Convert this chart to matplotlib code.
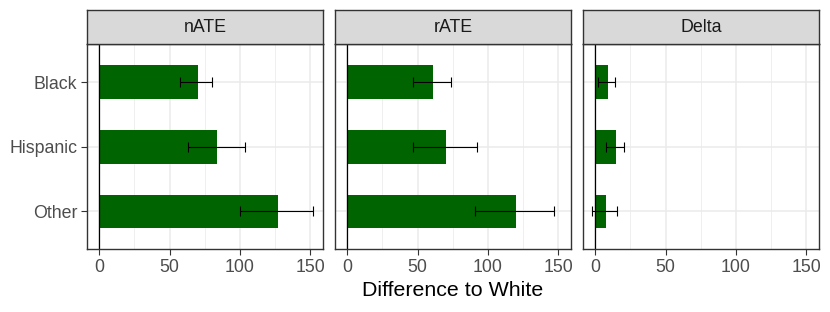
import numpy as np
import matplotlib.pyplot as plt

plt.rcParams['font.family'] = ['Liberation Sans', 'DejaVu Sans']

groups = ["Black", "Hispanic", "Other"]
panels = ["nATE", "rATE", "Delta"]
# bar value, lower and upper error bound for each panel
est = {"nATE": [70, 84, 127], "rATE": [61, 70, 120], "Delta": [9, 14.5, 7.8]}
lo = {"nATE": [57.5, 63, 100.3], "rATE": [47, 47, 91], "Delta": [2.1, 7.4, -2.1]}
hi = {"nATE": [80.5, 103.6, 152], "rATE": [74, 92.2, 147.1], "Delta": [14.2, 20.2, 15.6]}
xticks = [0, 50, 100, 150]

fig = plt.figure(figsize=(8.3, 3.12), dpi=100)
W, H = 830, 312
lefts = [87, 335, 583]
pw = 236
ptop, pbot, stop = 44, 249, 10
y = np.arange(len(groups))[::-1]

for i, (name, l) in enumerate(zip(panels, lefts)):
    ax = fig.add_axes([l / W, (H - pbot) / H, pw / W, (pbot - ptop) / H])
    v = np.array(est[name])
    err = [v - np.array(lo[name]), np.array(hi[name]) - v]
    ax.barh(y, v, height=0.52, color='#006400', zorder=2)
    ax.errorbar(v, y, xerr=err, fmt='none', ecolor='black', elinewidth=0.8,
                capsize=3.6, capthick=0.8, zorder=3)
    ax.axvline(0, color='black', lw=0.9, zorder=2.5)
    ax.set_xlim(-8.7, 159.1)
    ax.set_ylim(-0.58, 2.59)
    ax.set_xticks(xticks)
    ax.set_xticks([25, 75, 125], minor=True)
    ax.set_yticks(y)
    ax.set_yticklabels(groups if i == 0 else [])
    ax.grid(True, which='major', color='#EBEBEB', lw=1.1, zorder=0)
    ax.grid(True, which='minor', axis='x', color='#EBEBEB', lw=0.55, zorder=0)
    ax.set_axisbelow(True)
    ax.tick_params(which='major', length=4, width=0.8, color='#333333',
                   labelcolor='#4D4D4D', labelsize=12.8, pad=3)
    ax.tick_params(which='minor', length=0)
    if i > 0:
        ax.tick_params(axis='y', left=False, labelleft=False)
    for s in ax.spines.values():
        s.set_color('#333333')
        s.set_linewidth(1.0)
    # facet strip
    sax = fig.add_axes([l / W, (H - ptop) / H, pw / W, (ptop - stop) / H])
    sax.set_facecolor('#D9D9D9')
    sax.set_xticks([])
    sax.set_yticks([])
    for s in sax.spines.values():
        s.set_color('#333333')
        s.set_linewidth(1.0)
    sax.text(0.5, 0.5, name, ha='center', va='center', fontsize=12.8,
             color='#1A1A1A', transform=sax.transAxes)

fig.text((lefts[0] + lefts[2] + pw) / 2 / W, 1 - 290 / H, "Difference to White",
         ha='center', va='center', fontsize=15.4, color='black')

fig.savefig('out.png', dpi=100)
